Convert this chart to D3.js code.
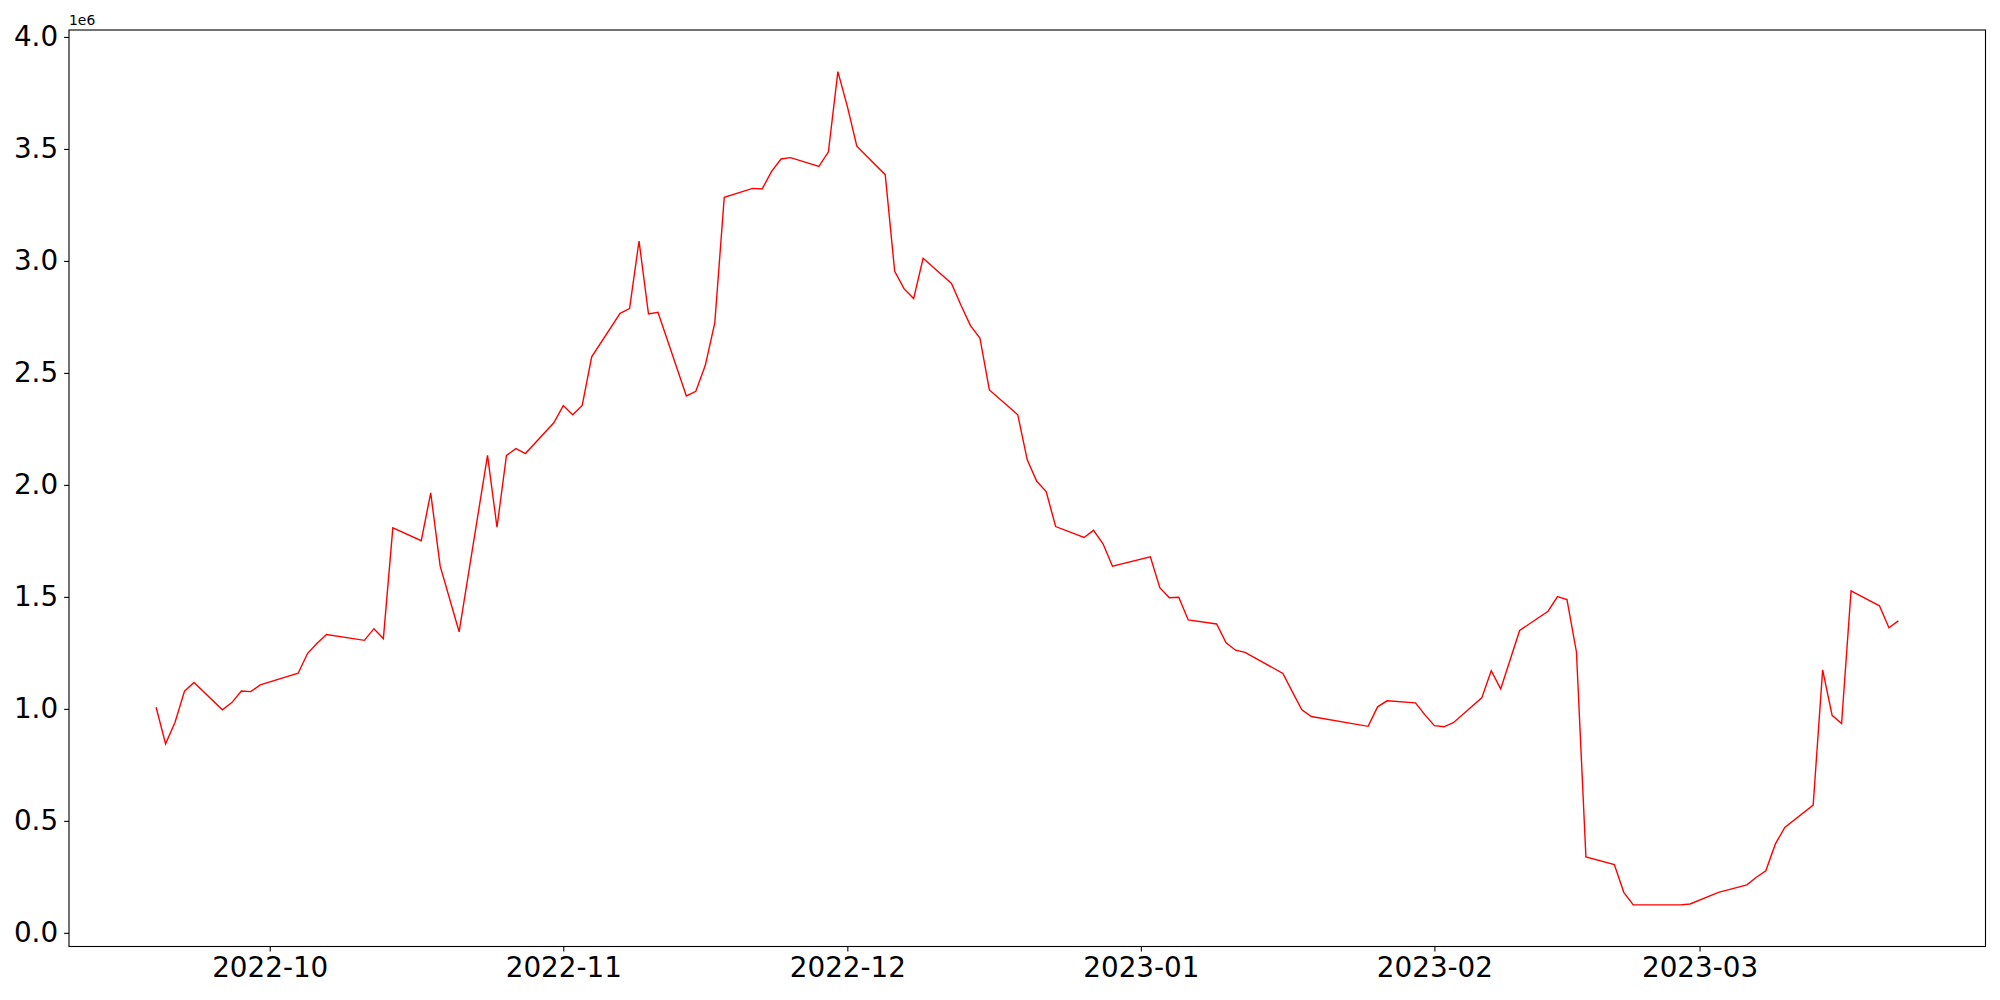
<!DOCTYPE html>
<html lang="en">
<head>
<meta charset="utf-8">
<title>Line chart</title>
<script src="https://d3js.org/d3.v7.min.js"></script>
<style>
  body { margin: 0; background: #fff; }
  svg { display: block; font-family: "DejaVu Sans", sans-serif; }
  .tick text { font-family: "DejaVu Sans", sans-serif; font-size: 27.8px; fill: #000; }
  .tick line, .domain { stroke: #000; stroke-width: 1.1px; }
</style>
</head>
<body>
<svg width="2000" height="1000"></svg>
<script>
// trading days and values (units of 1, axis shows 1e6)
var dates = [
  '2022-09-19','2022-09-20','2022-09-21','2022-09-22','2022-09-23',
  '2022-09-26','2022-09-27','2022-09-28','2022-09-29','2022-09-30',
  '2022-10-04','2022-10-05','2022-10-06','2022-10-07',
  '2022-10-11','2022-10-12','2022-10-13','2022-10-14',
  '2022-10-17','2022-10-18','2022-10-19','2022-10-21',
  '2022-10-24','2022-10-25','2022-10-26','2022-10-27','2022-10-28',
  '2022-10-31','2022-11-01','2022-11-02','2022-11-03','2022-11-04',
  '2022-11-07','2022-11-08','2022-11-09','2022-11-10','2022-11-11',
  '2022-11-14','2022-11-15','2022-11-16','2022-11-17','2022-11-18',
  '2022-11-21','2022-11-22','2022-11-23','2022-11-24','2022-11-25',
  '2022-11-28','2022-11-29','2022-11-30','2022-12-01','2022-12-02',
  '2022-12-05','2022-12-06','2022-12-07','2022-12-08','2022-12-09',
  '2022-12-12','2022-12-13','2022-12-14','2022-12-15','2022-12-16',
  '2022-12-19','2022-12-20','2022-12-21','2022-12-22','2022-12-23',
  '2022-12-26','2022-12-27','2022-12-28','2022-12-29',
  '2023-01-02','2023-01-03','2023-01-04','2023-01-05','2023-01-06',
  '2023-01-09','2023-01-10','2023-01-11','2023-01-12',
  '2023-01-16','2023-01-17','2023-01-18','2023-01-19',
  '2023-01-25','2023-01-26','2023-01-27',
  '2023-01-30','2023-01-31','2023-02-01','2023-02-02','2023-02-03',
  '2023-02-06','2023-02-07','2023-02-08','2023-02-09','2023-02-10',
  '2023-02-13','2023-02-14','2023-02-15','2023-02-16','2023-02-17',
  '2023-02-20','2023-02-21','2023-02-22','2023-02-23','2023-02-24',
  '2023-02-27','2023-02-28','2023-03-03',
  '2023-03-06','2023-03-07','2023-03-08','2023-03-09','2023-03-10',
  '2023-03-13','2023-03-14','2023-03-15','2023-03-16','2023-03-17',
  '2023-03-20','2023-03-21','2023-03-22'
];
var values = [
  1007000, 844000, 940000, 1079000, 1118000,
  996000, 1028000, 1080000, 1077000, 1107000,
  1159000, 1248000, 1293000, 1332000,
  1306000, 1358000, 1314000, 1808000,
  1751000, 1964000, 1637000, 1344000,
  2132000, 1811000, 2132000, 2162000, 2140000,
  2277000, 2354000, 2313000, 2355000, 2572000,
  2766000, 2787000, 3089000, 2763000, 2771000,
  2397000, 2418000, 2534000, 2723000, 3284000,
  3324000, 3321000, 3400000, 3455000, 3461000,
  3422000, 3487000, 3845000, 3690000, 3512000,
  3385000, 2954000, 2875000, 2832000, 3012000,
  2899000, 2802000, 2711000, 2656000, 2424000,
  2313000, 2112000, 2016000, 1970000, 1814000,
  1765000, 1797000, 1737000, 1637000,
  1679000, 1541000, 1496000, 1498000, 1397000,
  1379000, 1295000, 1262000, 1252000,
  1158000, 1076000, 996000, 966000,
  922000, 1009000, 1036000,
  1027000, 973000, 925000, 920000, 938000,
  1049000, 1170000, 1089000, 1219000, 1350000,
  1436000, 1501000, 1488000, 1254000, 339000,
  305000, 181000, 125000, 125000, 125000,
  125000, 129000, 181000,
  214000, 248000, 277000, 396000, 471000,
  570000, 1174000, 971000, 934000, 1527000,
  1460000, 1362000, 1393000
];
var yTicks = [0, 500000, 1000000, 1500000, 2000000, 2500000, 3000000, 3500000, 4000000];

// plot box (window.top is reserved, so no "top" here)
var plotLeft = 69, plotRight = 1985.5, plotTop = 30, plotBottom = 946.5;
var parse = d3.utcParse('%Y-%m-%d');
var data = dates.map(function(d, i) { return {date: parse(d), value: values[i]}; });

// matplotlib style 5% margins
var xExt = d3.extent(data, function(d) { return d.date; });
var xPad = (xExt[1] - xExt[0]) * 0.05;
var yExt = d3.extent(data, function(d) { return d.value; });
var yPad = (yExt[1] - yExt[0]) * 0.05;

var xScale = d3.scaleUtc()
  .domain([new Date(+xExt[0] - xPad), new Date(+xExt[1] + xPad)])
  .range([plotLeft, plotRight]);
var yScale = d3.scaleLinear()
  .domain([yExt[0] - yPad, yExt[1] + yPad])
  .range([plotBottom, plotTop]);

var svg = d3.select('svg');

// line
var line = d3.line()
  .x(function(d) { return xScale(d.date); })
  .y(function(d) { return yScale(d.value); });

svg.append('path')
  .datum(data)
  .attr('d', line)
  .attr('fill', 'none')
  .attr('stroke', '#ff0000')
  .attr('stroke-width', 1.4)
  .attr('stroke-linejoin', 'miter');

// x axis
svg.append('g')
  .attr('transform', 'translate(0,' + plotBottom + ')')
  .call(d3.axisBottom(xScale)
    .ticks(d3.utcMonth.every(1))
    .tickFormat(d3.utcFormat('%Y-%m'))
    .tickSize(4.9).tickPadding(6).tickSizeOuter(0))
  .call(function(g) { g.select('.domain').remove(); });

// y axis
svg.append('g')
  .attr('transform', 'translate(' + plotLeft + ',0)')
  .call(d3.axisLeft(yScale)
    .tickValues(yTicks)
    .tickFormat(function(d) { return (d / 1e6).toFixed(1); })
    .tickSize(4.9).tickPadding(6).tickSizeOuter(0))
  .call(function(g) { g.select('.domain').remove(); });

// frame
svg.append('rect')
  .attr('x', plotLeft).attr('y', plotTop)
  .attr('width', plotRight - plotLeft).attr('height', plotBottom - plotTop)
  .attr('fill', 'none')
  .attr('stroke', '#000')
  .attr('stroke-width', 1.1);

// offset label
svg.append('text')
  .attr('x', plotLeft)
  .attr('y', 25)
  .style('font-size', '13.9px')
  .text('1e6');
</script>
</body>
</html>
